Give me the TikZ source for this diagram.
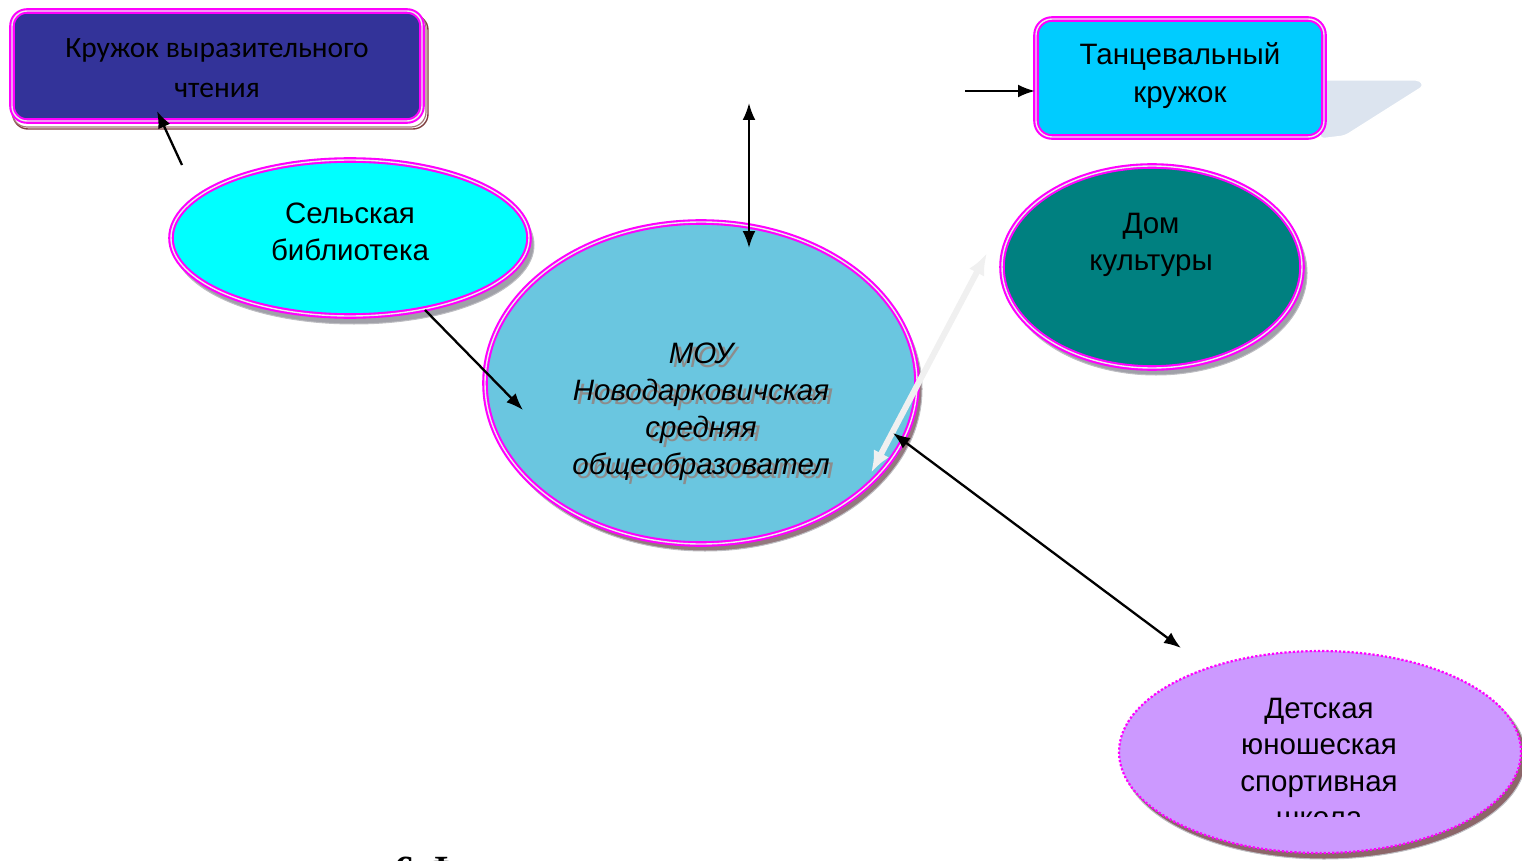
\documentclass[tikz,border=0pt]{standalone}
\usepackage{fontspec}
\setmainfont{Liberation Sans}
\newfontfamily\calib{Carlito}
\newfontfamily\serifb{Liberation Serif}
\usetikzlibrary{arrows.meta,shapes.geometric,calc}
\definecolor{boxblue}{HTML}{333399}
\definecolor{tcyan}{HTML}{00CCFF}
\definecolor{libcyan}{HTML}{00FFFF}
\definecolor{moublue}{HTML}{6AC6E0}
\definecolor{domteal}{HTML}{008080}
\definecolor{lilac}{HTML}{CC99FF}
\definecolor{shadowblue}{HTML}{DCE4EF}
\definecolor{mag}{HTML}{FF00FF}
\definecolor{brownsh}{HTML}{7F3F3F}
\definecolor{graysh}{HTML}{A0A0A8}
\tikzset{
  magborder/.style={draw=mag, line width=2.1pt, double=white!85!gray, double distance=1.4pt},
  ell/.style={ellipse, inner sep=0pt, magborder},
  ellshadow/.style={ellipse, inner sep=0pt, fill=graysh, draw=graysh!70!white, line width=1pt},
  lbl/.style={align=center, text=black, inner sep=0pt},
  arr/.style={line width=2.3pt, -{Latex[length=17pt,width=13pt]}},
  darr/.style={line width=2.3pt, {Latex[length=17pt,width=13pt]}-{Latex[length=17pt,width=13pt]}},
  warr/.style={line width=6pt, draw=black!6, {Latex[length=22pt,width=17pt]}-{Latex[length=22pt,width=17pt]}},
}
\begin{document}
\begin{tikzpicture}[x=1pt,y=-1pt]
\useasboundingbox (0,0) rectangle (1522,861);

% --- shadows ---
\draw[brownsh, line width=1.4pt, rounded corners=15pt] (13,15) rectangle (428,129);
\draw[brownsh!70, line width=1.2pt, rounded corners=15pt] (12,13) rectangle (426,127);
\fill[shadowblue, draw=white, line width=1.5pt, rounded corners=4pt]
  (1320,80) -- (1420,80) -- (1424,86) -- (1345,136) -- (1320,139) -- cycle;
\node[ellshadow, minimum width=360pt, minimum height=158pt] (libsh) at (354,245) {};
\node[ellshadow, minimum width=434pt, minimum height=324pt, fill=brownsh!40!graysh] (moush) at (705,389) {};
\node[ellshadow, minimum width=302pt, minimum height=204pt] (domsh) at (1156,273) {};
\node[ellshadow, minimum width=404pt, minimum height=204pt, fill=brownsh!60!graysh] (detsh) at (1324,757) {};

% --- boxes ---
\node[rounded corners=15pt, fill=boxblue, magborder, minimum width=410pt, minimum height=110pt] (kruzhok) at (217,66) {};
\node[lbl, font=\calib\fontsize{29.5}{40}\selectfont] (kruzhoktext) at (217,68) {Кружок выразительного\\чтения};

\node[rounded corners=16pt, fill=tcyan, magborder, minimum width=288pt, minimum height=118pt] (tanec) at (1180,78) {};
\node[lbl, font=\fontsize{29.5}{38}\selectfont] (tanectext) at (1180,76) {Танцевальный\\кружок};

% --- ellipses ---
\node[ell, fill=libcyan, minimum width=358pt, minimum height=156pt] (lib) at (350,238) {};
\node[lbl, font=\fontsize{29.5}{37}\selectfont] (libtext) at (350,232) {Сельская\\библиотека};

\node[ell, fill=moublue, minimum width=432pt, minimum height=322pt] (mou) at (701,383) {};
\node[lbl, font=\itshape\fontsize{29.5}{37}\selectfont, text=black!45] (moushadow) at (705,416) {МОУ\\Новодарковичская\\средняя\\общеобразовател};
\node[lbl, font=\itshape\fontsize{29.5}{37}\selectfont] (moutext) at (701,412) {МОУ\\Новодарковичская\\средняя\\общеобразовател};

\node[ell, fill=domteal, minimum width=300pt, minimum height=202pt] (dom) at (1152,267) {};
\node[lbl, font=\fontsize{29.5}{37}\selectfont] (domtext) at (1151,245) {Дом\\культуры};

\node[ellipse, inner sep=0pt, fill=lilac, draw=mag, line width=2.2pt, dotted, minimum width=402pt, minimum height=202pt] (det) at (1320,752) {};
\begin{scope}
\clip (1100,600) rectangle (1522,816);
\node[lbl, font=\fontsize{29.5}{36.5}\selectfont] (dettext) at (1319,763) {Детская\\юношеская\\спортивная\\школа};
\end{scope}

% --- partially visible caption ---
\node[anchor=base west, inner sep=0pt, font=\serifb\bfseries\fontsize{40}{40}\selectfont] (caption) at (394,883) {6.Ф};

% --- connectors ---
\coordinate (a1s) at (182,165);
\coordinate (a1e) at (157,111);
\draw[arr] (a1s) -- (a1e);

\coordinate (a2s) at (425,310);
\coordinate (a2e) at (523,410);
\draw[arr] (a2s) -- (a2e);

\coordinate (a3s) at (749,103);
\coordinate (a3e) at (749,248);
\draw[darr] (a3s) -- (a3e);

\coordinate (a4s) at (965,91);
\coordinate (a4e) at (1035,91);
\draw[arr] (a4s) -- (a4e);

\coordinate (a5s) at (987,253);
\coordinate (a5e) at (871,473);
\draw[warr] (a5s) -- (a5e);

\coordinate (a6s) at (893,433);
\coordinate (a6e) at (1181,648);
\draw[darr] (a6s) -- (a6e);
\end{tikzpicture}
\end{document}
